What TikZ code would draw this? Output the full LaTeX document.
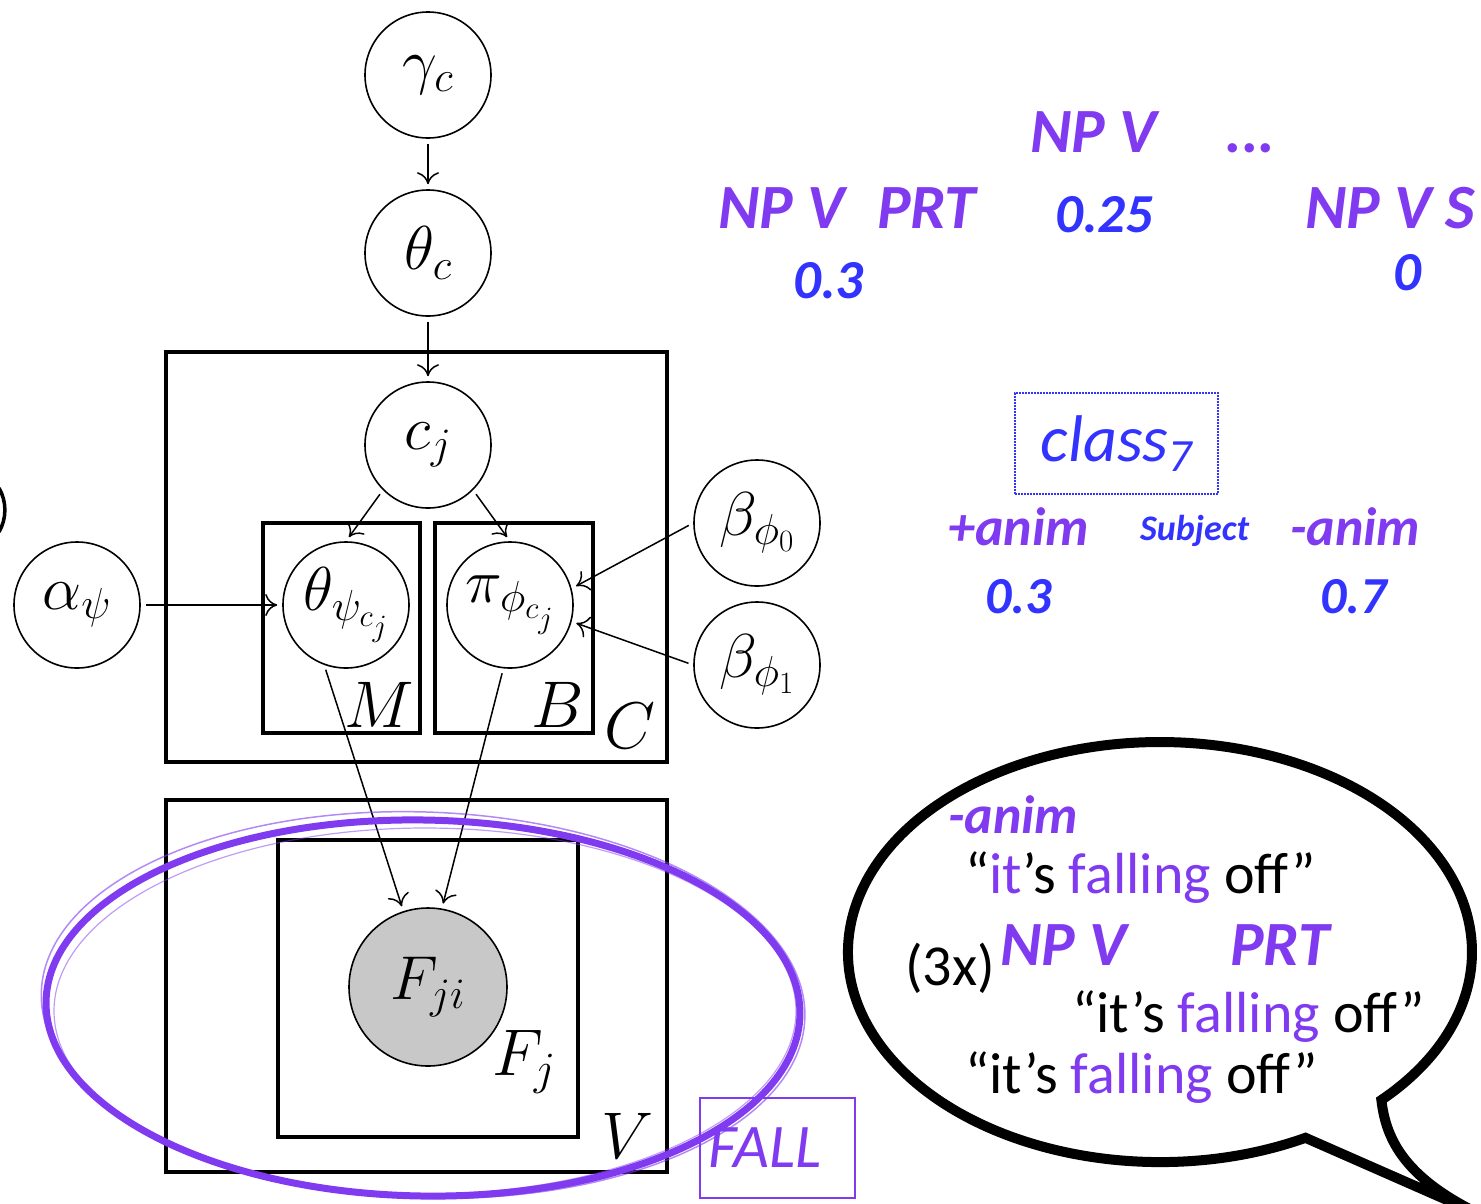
\RequirePackage{fix-cm}
\documentclass[tikz,border=0pt]{standalone}
\usepackage{fontspec}
\setmainfont{Carlito}
\usepackage{tikz}
\usetikzlibrary{arrows.meta,positioning,calc}

\definecolor{slpurple}{RGB}{128,58,240}
\definecolor{slblue}{RGB}{51,51,255}
\definecolor{obsgray}{RGB}{200,200,200}

\begin{document}
\begin{tikzpicture}[
x=1pt,
y=-1pt,
var/.style={circle,draw,line width=1.6pt,minimum size=126pt,inner sep=0pt,font=\fontsize{62}{68}\selectfont},
obs/.style={var,fill=obsgray,minimum size=158pt},
plate/.style={draw,line width=3.4pt},
platelbl/.style={anchor=base east,inner sep=0pt,font=\fontsize{66}{72}\selectfont},
arr/.style={-{To[length=12pt,width=22pt]},line width=1.5pt,shorten <=5pt,shorten >=5pt},
frame/.style={font=\fontsize{63}{70}\selectfont\bfseries\itshape,text=slpurple,anchor=base west,inner sep=0pt},
prob/.style={font=\fontsize{55}{60}\selectfont\bfseries\itshape,text=slblue,anchor=base west,inner sep=0pt},
feat/.style={font=\fontsize{54}{60}\selectfont\bfseries\itshape,text=slpurple,anchor=base west,inner sep=0pt},
quote/.style={font=\fontsize{58}{64}\selectfont,anchor=base west,inner sep=0pt},
classbox/.style={draw=slblue,densely dotted,line width=2pt,minimum width=203pt,minimum height=101pt,text=slblue,font=\fontsize{66}{72}\selectfont\itshape},
fallbox/.style={draw=slpurple,line width=1.8pt,text width=139pt,align=left,inner xsep=8pt,minimum height=100pt,text=slpurple,font=\fontsize{62}{68}\selectfont\itshape}
]
\useasboundingbox (0,0) rectangle (1481,1203);

% graphical model
\node[var] (gammac) at (428,75) {$\gamma_c$};
\node[var] (thetac) at (428,253) {$\theta_c$};
\node[var] (cj) at (428,445) {$c_j$};
\node[var] (thetapsi) at (346,605) {$\theta_{\psi_{c_j}}$};
\node[var] (piphi) at (510,605) {$\pi_{\phi_{c_j}}$};
\node[var] (alphapsi) at (77,605) {$\alpha_\psi$};
\node[var] (betazero) at (757,523) {$\beta_{\phi_0}$};
\node[var] (betaone) at (757,665) {$\beta_{\phi_1}$};
\node[obs] (fji) at (428,987) {$F_{ji}$};

% plates
\draw[plate] (166,352) rectangle (667,762);
\draw[plate] (263,523) rectangle (420,733);
\draw[plate] (435,523) rectangle (593,733);
\draw[plate] (166,800) rectangle (667,1172);
\draw[plate] (278,840) rectangle (578,1137);
\node[platelbl] (mlbl) at (414,727) {$M$};
\node[platelbl] (blbl) at (584,727) {$B$};
\node[platelbl] (clbl) at (656,748) {$C$};
\node[platelbl] (fjlbl) at (556,1075) {$F_j$};
\node[platelbl] (vlbl) at (654,1158) {$V$};

\draw[arr] (gammac) -- (thetac);
\draw[arr] (thetac) -- (cj);
\draw[arr] (cj.225) -- (thetapsi.north);
\draw[arr] (cj.-45) -- (piphi.north);
\draw[arr] (alphapsi) -- (thetapsi);
\draw[arr] (betazero.west) -- (piphi.15);
\draw[arr] (betaone.west) -- (piphi.-15);
\draw[arr] (thetapsi.-110) -- (fji.108);
\draw[arr] (piphi.-96) -- (fji.80);

% hand-drawn ellipse
\draw[slpurple,line width=7pt,rotate around={-1:(423,1008)}] (423,1008) ellipse [x radius=377,y radius=188];
\draw[slpurple,line width=1.5pt,opacity=0.6,rotate around={-2:(423,1008)}] (423,1005) ellipse [x radius=382,y radius=193];
\draw[slpurple,line width=1.2pt,opacity=0.5] (425,1011) ellipse [x radius=371,y radius=183];

\node[fallbox] (fall) at (777.5,1148) {FALL};
% edge of a cut-off bracket
\draw[line width=3.5pt] (-1,488) arc[start angle=-30,end angle=30,radius=44];

% frames and probabilities
\node[frame] (npv) at (1030,152) {NP V};
\node[frame] (dots) at (1225,152) {...};
\node[frame] (npvone) at (718,228) {NP V};
\node[frame] (prtone) at (877,228) {PRT};
\node[frame] (npvs) at (1305,228) {NP V S};
\node[prob] (ptwo) at (1055,232) {0.25};
\node[prob] (pone) at (793,298) {0.3};
\node[prob] (pthree) at (1393,290) {0};

\node[classbox] (cls) at (1116.5,443.5) {class\textsubscript{7}};
\node[feat] (plusanim) at (948,545) {+anim};
\node[prob,font=\fontsize{36}{40}\selectfont\bfseries\itshape] (subj) at (1140,540) {Subject};
\node[feat] (minusanim) at (1290,545) {-anim};
\node[prob,font=\fontsize{52}{58}\selectfont\bfseries\itshape] (pplus) at (985,613) {0.3};
\node[prob,font=\fontsize{52}{58}\selectfont\bfseries\itshape] (pminus) at (1320,613) {0.7};

% speech bubble
\draw[line width=10pt,line join=miter] (1305.5,1137.8) arc[start angle=62.2,end angle=404.8,x radius=312,y radius=210]
  .. controls (1386,1140) and (1405,1180) .. (1488,1218) -- cycle;
\node[feat] (bubanim) at (948,833) {-anim};
\node[quote] (lineone) at (965,893) {“{\color{slpurple}it}’s {\color{slpurple}falling} off”};
\node[quote] (times) at (905,985) {(3x)};
\node[frame] (bubnpv) at (1000,965) {NP V};
\node[frame] (bubprt) at (1230,965) {PRT};
\node[quote] (linetwo) at (1072,1032) {“it’s {\color{slpurple}falling} off”};
\node[quote] (linethree) at (965,1093) {“it’s {\color{slpurple}falling} off”};
\end{tikzpicture}
\end{document}
